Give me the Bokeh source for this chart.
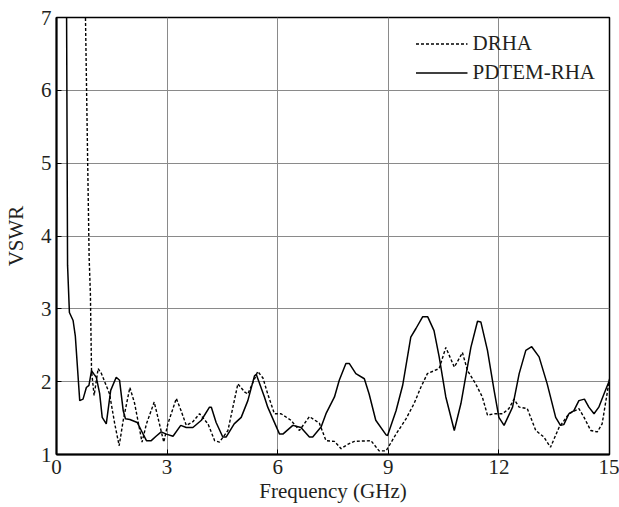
from bokeh.plotting import figure
from bokeh.models import Range1d, FixedTicker, Legend, LegendItem
from bokeh.embed import file_html
from bokeh.resources import INLINE

x_ticks = [0, 3, 6, 9, 12, 15]
y_ticks = [1, 2, 3, 4, 5, 6, 7]

# DRHA (dashed)
drha_f = [0.78, 0.885, 0.92, 0.95, 1.02, 1.13, 1.22, 1.44, 1.58, 1.70,
          1.81, 1.99, 2.12, 2.32, 2.44, 2.65, 2.75, 2.91, 3.02, 3.25,
          3.38, 3.52, 3.70, 3.88, 4.11, 4.29, 4.42, 4.65, 4.92, 5.10,
          5.19, 5.46, 5.60, 5.73, 5.91, 6.09, 6.36, 6.59, 6.86, 7.13,
          7.31, 7.54, 7.72, 7.90, 8.08, 8.53, 8.75, 8.94, 9.21, 9.48,
          9.70, 9.88, 10.06, 10.38, 10.56, 10.79, 10.97, 11.01, 11.15, 11.37,
          11.55, 11.69, 11.87, 12.10, 12.27, 12.41, 12.55, 12.77, 13.00, 13.22,
          13.40, 13.63, 13.90, 14.17, 14.31, 14.49, 14.67, 14.80, 15.0]
drha_v = [7.2, 3.71, 3.2, 2.15, 1.81, 2.18, 2.11, 1.83, 1.42, 1.12,
          1.47, 1.92, 1.70, 1.17, 1.42, 1.72, 1.51, 1.17, 1.42, 1.77,
          1.60, 1.40, 1.45, 1.56, 1.42, 1.19, 1.17, 1.33, 1.97, 1.86,
          1.83, 2.14, 2.05, 1.83, 1.56, 1.56, 1.47, 1.33, 1.52, 1.43,
          1.19, 1.18, 1.08, 1.14, 1.18, 1.19, 1.05, 1.05, 1.28, 1.49,
          1.70, 1.92, 2.11, 2.18, 2.47, 2.20, 2.36, 2.40, 2.15, 1.97,
          1.79, 1.54, 1.56, 1.56, 1.63, 1.76, 1.65, 1.63, 1.33, 1.24,
          1.10, 1.37, 1.56, 1.63, 1.51, 1.33, 1.31, 1.42, 2.04]

# PDTEM-RHA (solid)
pdtem_f = [0.27, 0.30, 0.35, 0.45, 0.51, 0.63, 0.72, 0.81, 0.88, 0.95,
           1.02, 1.08, 1.17, 1.24, 1.35, 1.47, 1.62, 1.71, 1.81, 1.87,
           1.99, 2.19, 2.30, 2.44, 2.57, 2.70, 2.84, 2.98, 3.16, 3.37,
           3.52, 3.70, 3.93, 4.15, 4.20, 4.33, 4.51, 4.60, 4.82, 5.01,
           5.19, 5.37, 5.42, 5.64, 5.73, 6.05, 6.14, 6.41, 6.63, 6.86,
           6.95, 7.18, 7.31, 7.54, 7.67, 7.85, 7.94, 8.12, 8.35, 8.48,
           8.66, 8.94, 8.98, 9.21, 9.39, 9.61, 9.75, 9.93, 10.07, 10.24,
           10.38, 10.56, 10.79, 10.97, 11.24, 11.42, 11.51, 11.69, 11.87, 12.00,
           12.14, 12.37, 12.55, 12.73, 12.89, 13.09, 13.31, 13.54, 13.67, 13.76,
           13.90, 14.03, 14.17, 14.32, 14.44, 14.58, 14.71, 14.85, 15.0]
pdtem_v = [7.5, 3.6, 2.95, 2.84, 2.63, 1.74, 1.76, 1.92, 1.95, 2.15,
           2.10, 2.06, 1.84, 1.51, 1.42, 1.88, 2.06, 2.02, 1.60, 1.49,
           1.48, 1.44, 1.33, 1.19, 1.19, 1.25, 1.31, 1.28, 1.25, 1.40,
           1.37, 1.37, 1.47, 1.65, 1.65, 1.44, 1.24, 1.24, 1.42, 1.51,
           1.74, 2.08, 2.10, 1.79, 1.65, 1.28, 1.28, 1.40, 1.37, 1.24,
           1.24, 1.38, 1.56, 1.79, 2.02, 2.25, 2.25, 2.11, 2.04, 1.83,
           1.47, 1.27, 1.26, 1.60, 1.95, 2.61, 2.73, 2.89, 2.89, 2.70,
           2.34, 1.79, 1.33, 1.70, 2.47, 2.83, 2.82, 2.43, 1.88, 1.51,
           1.40, 1.65, 2.11, 2.43, 2.48, 2.34, 1.97, 1.51, 1.40, 1.41,
           1.56, 1.60, 1.74, 1.76, 1.65, 1.56, 1.65, 1.83, 2.02]

FONT = "'Liberation Serif', 'Times New Roman', serif"
TXT = "#231f20"
FS = "21px"

p = figure(width=619, height=507, x_range=Range1d(0, 15), y_range=Range1d(1, 7),
           output_backend="svg", toolbar_location=None,
           min_border_left=55, min_border_right=10, min_border_top=17, min_border_bottom=53)

p.outline_line_color = "black"
p.outline_line_width = 1.5
p.outline_line_alpha = 1

for ax in (p.xaxis[0], p.yaxis[0]):
    ax.axis_line_width = 2
    ax.axis_line_color = "black"
    ax.major_tick_in = 5
    ax.major_tick_out = 0
    ax.minor_tick_line_color = None
    ax.major_tick_line_color = "black"
    ax.major_label_text_font = FONT
    ax.major_label_text_font_size = FS
    ax.major_label_text_color = TXT
    ax.axis_label_text_font = FONT
    ax.axis_label_text_font_size = FS
    ax.axis_label_text_font_style = "normal"
    ax.axis_label_text_color = TXT

p.xaxis.ticker = FixedTicker(ticks=x_ticks)
p.yaxis.ticker = FixedTicker(ticks=y_ticks)
p.xaxis.axis_label = "Frequency (GHz)"
p.yaxis.axis_label = "VSWR"
p.xaxis.major_label_standoff = 5
p.yaxis.major_label_standoff = 5
p.xaxis.axis_label_standoff = 2
p.yaxis.axis_label_standoff = 10

p.xgrid.ticker = FixedTicker(ticks=x_ticks)
p.ygrid.ticker = FixedTicker(ticks=y_ticks)
p.grid.grid_line_color = "#8a8a8a"
p.grid.grid_line_width = 1
p.grid.grid_line_alpha = 1

r1 = p.line(drha_f, drha_v, line_color="black", line_width=1.4, line_dash="3 2")
r2 = p.line(pdtem_f, pdtem_v, line_color="black", line_width=1.5)

legend = Legend(items=[LegendItem(label="DRHA", renderers=[r1]),
                       LegendItem(label="PDTEM-RHA", renderers=[r2])],
                location="top_right")
legend.margin = 0
legend.padding = 14
legend.spacing = 4
legend.label_height = 21
legend.glyph_height = 21
legend.glyph_width = 52
legend.label_standoff = 5
legend.label_text_font = FONT
legend.label_text_font_size = FS
legend.label_text_color = TXT
legend.background_fill_alpha = 0
legend.border_line_alpha = 0
p.add_layout(legend)

open("out.html", "w").write(file_html(p, INLINE))
